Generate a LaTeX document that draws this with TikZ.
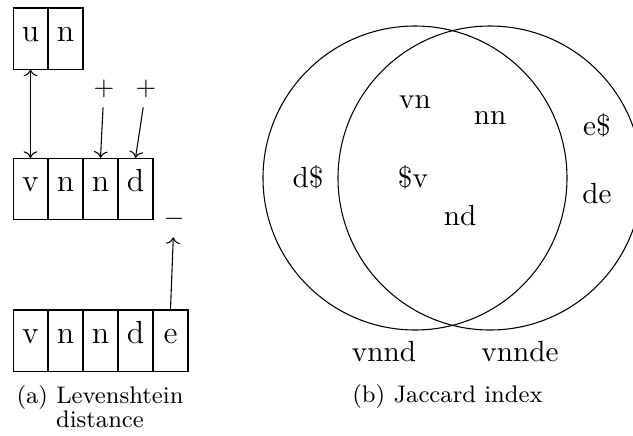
\documentclass[tikz,border=0pt]{standalone}
\usepackage{tikz}
\usetikzlibrary{positioning,arrows.meta}

\begin{document}
\begin{tikzpicture}[
    x=0.375pt, y=-0.375pt,
    cell/.style={draw=black, minimum width=13.1pt, minimum height=22.9pt, inner sep=0pt, font=\large, text height=6pt, text depth=4pt},
    sign/.style={font=\normalsize},
    gram/.style={font=\fontsize{10.95}{13}\selectfont, anchor=base},
    capt/.style={font=\fontsize{9}{9}\selectfont, anchor=base, align=center},
]
\useasboundingbox (0,0) rectangle (633,436);

% --- LEVENSHTEIN ---
\foreach \ch [count=\i] in {u,n} {
    \node[cell] (top\i) at (-4.5+\i*35, 38.5) {\ch};
}
\foreach \ch [count=\i] in {v,n,n,d} {
    \node[cell] (mid\i) at (-4.5+\i*35, 189) {\ch};
}
\foreach \ch [count=\i] in {v,n,n,d,e} {
    \node[cell] (bot\i) at (-4.5+\i*35, 340.5) {\ch};
}

\node[sign] (ins1) at (104, 89) {$+$};
\node[sign] (ins2) at (146, 89) {$+$};
\node[sign] (del) at (174, 219) {$-$};

\draw[<->] (top1) -- (mid1);
\draw[->] (ins1) -- (mid3.north);
\draw[->] (ins2) -- (mid4.north);
\draw[->] (bot5.north) -- (del);

\node[capt] (capa) at (100, 427.5) {(a) Levenshtein\\distance};

% --- JACCARD ---
\draw (415,178) circle [radius=152];
\draw (490,178) circle [radius=152];

\node[gram] (vn) at (415, 108) {vn};
\node[gram] (nn) at (490, 124) {nn};
\node[gram] (es) at (597, 135) {e\$};
\node[gram] (ds) at (308, 187.5) {d\$};
\node[gram] (sv) at (413, 187.5) {\$v};
\node[gram] (nd) at (460, 225.5) {nd};
\node[gram] (de) at (597, 203) {de};
\node[gram] (left) at (384, 361.5) {vnnd};
\node[gram] (right) at (520, 361.5) {vnnde};

\node[capt] (capb) at (447.5, 402) {(b) Jaccard index};

\end{tikzpicture}
\end{document}
